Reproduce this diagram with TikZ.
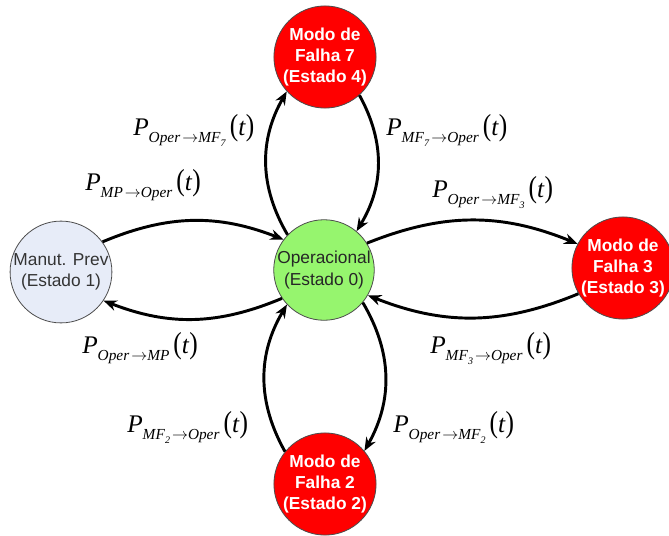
\documentclass[tikz,border=0pt]{standalone}
\usepackage{fontspec}
\usepackage{amsmath}
\usepackage{graphicx}
\setmainfont{Liberation Serif}
\newfontfamily\arialf{Liberation Sans}
\usetikzlibrary{arrows.meta}
\definecolor{mpfill}{RGB}{231,236,248}
\definecolor{opfill}{RGB}{150,245,110}
\definecolor{mfred}{RGB}{255,0,0}
\newcommand\PT[1]{\textit{P}\raisebox{-0.3em}{\fontsize{11.5}{12}\selectfont #1}\hspace{3pt}\scalebox{1}[1.2]{(}\textit{t}\scalebox{1}[1.2]{)}}
\newcommand\ssub[1]{\raisebox{-0.25em}{\fontsize{7.5}{8}\selectfont\textit{#1}}}
\newcommand\ar{\hspace{1.5pt}$\rightarrow$}
\tikzset{
  state/.style={circle, minimum size=75pt, inner sep=0pt, draw=black!70, line width=0.6pt,
    align=center, font=\arialf\fontsize{13}{16}\selectfont},
  mpstate/.style={state, fill=mpfill, text=black!80},
  opstate/.style={state, fill=opfill, text=black!85},
  mfstate/.style={state, fill=mfred, text=white, font=\arialf\bfseries\fontsize{13}{16}\selectfont},
  arr/.style={-{Stealth[length=10pt,width=8pt]}, line width=2.2pt, black},
  lbl/.style={anchor=base west, inner sep=0pt, font=\fontsize{19}{20}\selectfont}
}
\begin{document}
\begin{tikzpicture}[x=0.75pt,y=-0.75pt]
\useasboundingbox (0,0) rectangle (669,536);
\node[opstate] (oper) at (324,270) {Operacional\\(Estado 0)};
\node[mpstate] (manut) at (61,272) {Manut. Prev\\(Estado 1)};
\node[mfstate] (mf7) at (325,57) {Modo de\\Falha 7\\(Estado 4)};
\node[mfstate] (mf3) at (623,268) {Modo de\\Falha 3\\(Estado 3)};
\node[mfstate] (mf2) at (325,484) {Modo de\\Falha 2\\(Estado 2)};

\draw[arr] (manut.36) to[bend left=22] (oper.143);
\draw[arr] (oper.214) to[bend left=22] (manut.-34);
\draw[arr] (oper.136) to[bend left=30] (mf7.222);
\draw[arr] (mf7.-48) to[bend left=30] (oper.50);
\draw[arr] (oper.32) to[bend left=22] (mf3.152);
\draw[arr] (mf3.210) to[bend left=22] (oper.-30);
\draw[arr] (mf2.141) to[bend left=30] (oper.223);
\draw[arr] (oper.-40) to[bend left=30] (mf2.40);

\node[lbl] (l1) at (133,135) {\PT{\textit{Oper}\ar\textit{MF}\ssub{7}}};
\node[lbl] (l2) at (386,135) {\PT{\textit{MF}\ssub{7}\ar\textit{Oper}}};
\node[lbl] (l3) at (85,190) {\PT{\textit{MP}\ar\textit{Oper}}};
\node[lbl] (l4) at (432,197) {\PT{\textit{Oper}\ar\textit{MF}\ssub{3}}};
\node[lbl] (l5) at (82,353) {\PT{\textit{Oper}\ar\textit{MP}}};
\node[lbl] (l6) at (430,353) {\PT{\textit{MF}\ssub{3}\ar\textit{Oper}}};
\node[lbl] (l7) at (127,432) {\PT{\textit{MF}\ssub{2}\ar\textit{Oper}}};
\node[lbl] (l8) at (393,432) {\PT{\textit{Oper}\ar\textit{MF}\ssub{2}}};
\end{tikzpicture}
\end{document}
